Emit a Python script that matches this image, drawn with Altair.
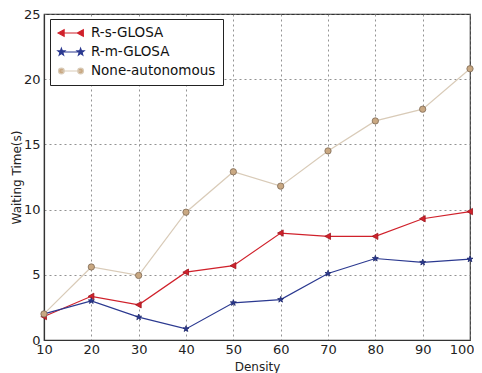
import altair as alt
import pandas as pd

density = [10, 20, 30, 40, 50, 60, 70, 80, 90, 100]
r_s = [1.8, 3.35, 2.7, 5.2, 5.7, 8.2, 7.95, 7.95, 9.3, 9.85]
r_m = [2.0, 3.0, 1.75, 0.85, 2.85, 3.1, 5.1, 6.25, 5.95, 6.2]
none_auto = [2.0, 5.6, 4.95, 9.8, 12.9, 11.8, 14.5, 16.8, 17.7, 20.8]

series = ["R-s-GLOSA", "R-m-GLOSA", "None-autonomous"]
line_colors = ["#d0212b", "#2b3990", "#d9cbb8"]
fill_colors = ["#d0212b", "#2b3990", "#c9a882"]
edge_colors = ["#a0161e", "#1f2a6e", "#7d6a55"]

rows = []
for name, vals in zip(series, [r_s, r_m, none_auto]):
    for d, v in zip(density, vals):
        rows.append({"Density": d, "Value": v, "Series": name})
df = pd.DataFrame(rows)

star = "M0,-1L0.24,-0.33L0.95,-0.31L0.38,0.12L0.59,0.81L0,0.4L-0.59,0.81L-0.38,0.12L-0.95,-0.31L-0.24,-0.33Z"
tri_left = "M-1,0L0.8,-1L0.8,1Z"

H = 1.6


def tri(c):
    return f"M{c-0.55},0L{c+0.45},-0.55L{c+0.45},0.55Z"


def starp(c, r=0.6):
    pts = [(0, -1), (0.24, -0.33), (0.95, -0.31), (0.38, 0.12), (0.59, 0.81), (0, 0.4),
           (-0.59, 0.81), (-0.38, 0.12), (-0.95, -0.31), (-0.24, -0.33)]
    return "M" + "L".join(f"{c + px*r:.3f},{py*r:.3f}" for px, py in pts) + "Z"


def circ(c, r=0.48):
    return f"M{c-r},0a{r},{r} 0 1,0 {2*r},0a{r},{r} 0 1,0 {-2*r},0Z"


leg_shapes = [
    f"M{-H},0L{H},0" + tri(-H) + tri(H),
    f"M{-H},0L{H},0" + starp(-H) + starp(H),
    f"M{-H},0L{H},0" + circ(-H) + circ(H),
]

PLOT_H = 326

x = alt.X("Density:Q", title="Density",
          scale=alt.Scale(domain=[10, 100], nice=False),
          axis=alt.Axis(values=density, grid=True, titleY=26, titleBaseline="middle",
                        labelFlush=False,
                        labelAlign=alt.condition("datum.value == 100", alt.value("right"), alt.value("center")),
                        labelOffset=alt.condition("datum.value == 100", alt.value(4), alt.value(0))))
y = alt.Y("Value:Q", title="Waiting Time(s)",
          scale=alt.Scale(domain=[0, 25], nice=False),
          axis=alt.Axis(values=[0, 5, 10, 15, 20, 25], grid=True, labelFlush=False,
                        titleX=-28, titleY=PLOT_H / 2, titleBaseline="middle"))

color_line = alt.Color("Series:N", sort=series,
                       scale=alt.Scale(domain=series, range=line_colors), legend=None)

lines = alt.Chart(df).mark_line(strokeWidth=1.2).encode(
    x=x, y=y, color=color_line, detail="Series:N")

points = alt.Chart(df).mark_point(filled=True, strokeWidth=0.8, opacity=1).encode(
    x=x, y=y,
    shape=alt.Shape("Series:N", scale=alt.Scale(domain=series, range=[tri_left, star, "circle"]), legend=None),
    fill=alt.Fill("Series:N", scale=alt.Scale(domain=series, range=fill_colors), legend=None),
    stroke=alt.Stroke("Series:N", scale=alt.Scale(domain=series, range=edge_colors), legend=None),
    size=alt.Size("Series:N", scale=alt.Scale(domain=series, range=[40, 40, 36]), legend=None),
)

leg = alt.Legend(title=None, orient="none", legendX=6, legendY=5,
                 fillColor="white", strokeColor="#222222",
                 padding=7, labelFontSize=13.5, labelFont="DejaVu Sans",
                 labelColor="#111111", symbolSize=144,
                 symbolOpacity=1, symbolStrokeWidth=1.2, symbolOffset=7,
                 labelOffset=13, rowPadding=5, cornerRadius=0, offset=0)

legend_layer = alt.Chart(df).mark_point(filled=False, opacity=0).encode(
    x=x, y=y,
    shape=alt.Shape("Series:N", sort=series,
                    scale=alt.Scale(domain=series, range=leg_shapes), legend=leg),
    stroke=alt.Stroke("Series:N", sort=series,
                      scale=alt.Scale(domain=series, range=line_colors), legend=leg),
    fill=alt.Fill("Series:N", sort=series,
                  scale=alt.Scale(domain=series, range=fill_colors), legend=leg),
)

chart = alt.layer(lines, points, legend_layer).resolve_scale(
    shape="independent", stroke="independent", fill="independent"
).properties(
    width=426, height=PLOT_H,
    padding={"left": 36, "top": 6, "right": 4, "bottom": 33},
    autosize=alt.AutoSizeParams(type="none"),
).configure_view(
    stroke="#333333", strokeWidth=1.2
).configure_axis(
    gridColor="#777777", gridDash=[2, 3], gridWidth=0.8, gridOpacity=1,
    domainColor="#333333", domainWidth=1.2,
    ticks=False,
    labelFont="DejaVu Sans", labelFontSize=13, labelColor="#222222",
    titleFont="DejaVu Sans", titleFontSize=12, titleFontWeight="normal", titleColor="#222222",
).configure_axisX(
    labelPadding=3
).configure_axisY(
    labelPadding=4
)

chart.save("out.html", embed_options={"renderer": "svg", "actions": False})
